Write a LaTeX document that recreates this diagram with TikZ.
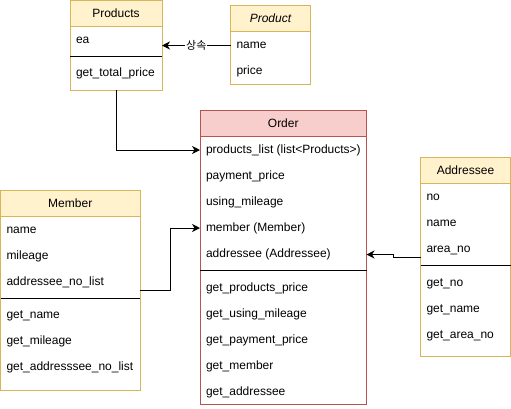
\documentclass[tikz,border=0pt]{standalone}
\usepackage{fontspec}
\setmainfont{Liberation Sans}
\newfontfamily\krfont{Noto Sans CJK KR}
\usetikzlibrary{arrows.meta}
\definecolor{yfill}{HTML}{FFF2CC}
\definecolor{ystroke}{HTML}{D6B656}
\definecolor{rfill}{HTML}{F8CECC}
\definecolor{rstroke}{HTML}{B85450}
\begin{document}
\begin{tikzpicture}[x=1pt,y=-1pt, line width=1pt,
 every node/.style={font=\fontsize{12}{14}\selectfont, inner sep=0pt, outer sep=0pt},
 hdry/.style={draw=ystroke, fill=yfill, anchor=north west, minimum height=26pt},
 boxy/.style={draw=ystroke, anchor=north west},
 hdrr/.style={draw=rstroke, fill=rfill, anchor=north west, minimum height=26pt},
 boxr/.style={draw=rstroke, anchor=north west},
 row/.style={anchor=west, inner xsep=6pt, text height=8.6pt, text depth=2.4pt},
 sepline/.style={draw=black, line width=1pt},
 link/.style={draw=black, line width=1pt, -{Stealth[length=8pt,width=8pt,inset=2.5pt]}},
 lbl/.style={fill=white, font=\krfont\fontsize{11}{13}\selectfont, inner xsep=1pt, inner ysep=1pt}
]
\useasboundingbox (0,0) rectangle (511,408);

% Products
\node[hdry, minimum width=92pt] (products-h) at (70,0.5) {Products};
\node[boxy, minimum width=92pt, minimum height=89.5pt] (products) at (70,0.5) {};
\node[row] (products-ea) at (70,40.5) {ea};
\draw[sepline] (products.west |- 0,56.5) -- (products.east |- 0,56.5);
\node[row] (products-gtp) at (70,73.5) {get\_total\_price};

% Product
\node[hdry, minimum width=80pt] (product-h) at (230.5,5.5) {\itshape Product};
\node[boxy, minimum width=80pt, minimum height=79pt] (product) at (230.5,5.5) {};
\node[row] (product-name) at (230.5,45.5) {name};
\node[row] (product-price) at (230.5,71.5) {price};

% Order
\node[hdrr, minimum width=166.5pt] (order-h) at (200,110.5) {Order};
\node[boxr, minimum width=166.5pt, minimum height=294pt] (order) at (200,110.5) {};
\node[row] (order-plist) at (200,150) {products\_list (list<Products>)};
\node[row] (order-pay) at (200,176.5) {payment\_price};
\node[row] (order-using) at (200,202.5) {using\_mileage};
\node[row] (order-member) at (200,228) {member (Member)};
\node[row] (order-addr) at (200,254.5) {addressee (Addressee)};
\draw[sepline] (order.west |- 0,270) -- (order.east |- 0,270);
\node[row] (order-g1) at (200,288.5) {get\_products\_price};
\node[row] (order-g2) at (200,314.5) {get\_using\_mileage};
\node[row] (order-g3) at (200,340.5) {get\_payment\_price};
\node[row] (order-g4) at (200,366.5) {get\_member};
\node[row] (order-g5) at (200,392.5) {get\_addressee};

% Member
\node[hdry, minimum width=139.5pt] (member-h) at (0.5,190.5) {Member};
\node[boxy, minimum width=139.5pt, minimum height=199.5pt] (member) at (0.5,190.5) {};
\node[row] (member-name) at (0.5,230.5) {name};
\node[row] (member-mileage) at (0.5,256.5) {mileage};
\node[row] (member-anl) at (0.5,282.5) {addressee\_no\_list};
\draw[sepline] (member.west |- 0,298) -- (member.east |- 0,298);
\node[row] (member-g1) at (0.5,315.5) {get\_name};
\node[row] (member-g2) at (0.5,341.5) {get\_mileage};
\node[row] (member-g3) at (0.5,367.5) {get\_addresssee\_no\_list};

% Addressee
\node[hdry, minimum width=90pt] (addressee-h) at (420.5,157.5) {Addressee};
\node[boxy, minimum width=90pt, minimum height=199pt] (addressee) at (420.5,157.5) {};
\node[row] (addressee-no) at (420.5,197.5) {no};
\node[row] (addressee-name) at (420.5,223.5) {name};
\node[row] (addressee-area) at (420.5,249.5) {area\_no};
\draw[sepline] (addressee.west |- 0,265.5) -- (addressee.east |- 0,265.5);
\node[row] (addressee-g1) at (420.5,283.5) {get\_no};
\node[row] (addressee-g2) at (420.5,309.5) {get\_name};
\node[row] (addressee-g3) at (420.5,335.5) {get\_area\_no};

% Connectors
\draw[link] (product-name.west) -- node[lbl] (inh) {상속} (products.east |- product-name.west);
\draw[link] (products.south) |- (order-plist.west);
\draw[link] (member.east |- 0,290) -- ++(30.7,0) |- (order-member.west);
\draw[link] (addressee.west |- 0,257.3) -- ++(-27.2,0) |- (order.east |- order-addr.west);
\end{tikzpicture}
\end{document}
